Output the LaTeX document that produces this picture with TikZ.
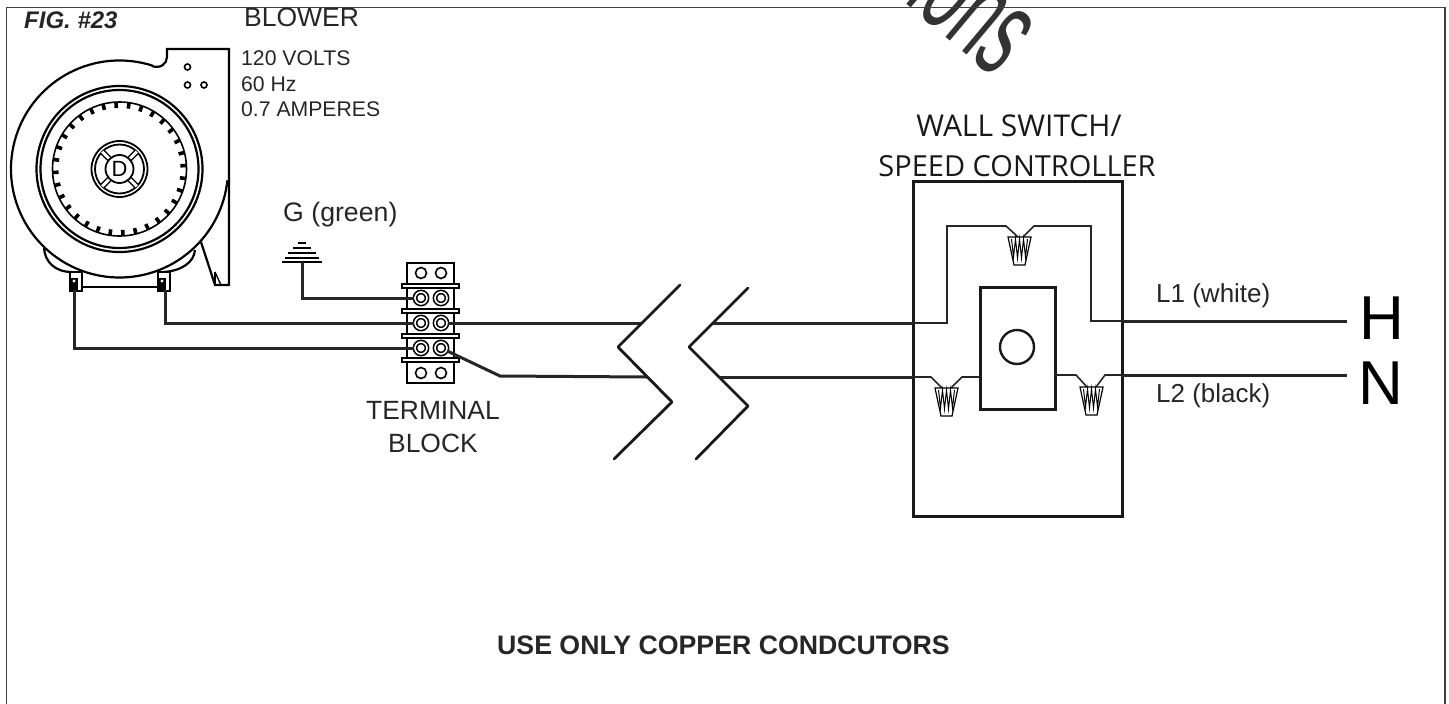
\documentclass[tikz,border=0pt]{standalone}
\usepackage{fontspec}
\setmainfont{Liberation Sans}
\newfontfamily\wallfont{Open Sans}
\usepackage{tikz}

\tikzset{
    lab/.style={inner sep=0pt, anchor=base west, text=black!85, font=\fontsize{#1}{#1}\selectfont},
    wallab/.style={inner sep=0pt, anchor=base, text=black!90, font=\wallfont\fontsize{#1}{#1}\selectfont},
    wire/.style={line width=3pt, black!85},
    thinwire/.style={line width=1.6pt, black!85},
    body/.style={line width=2.2pt},
    screw/.style={circle, draw, double, double distance=1.6pt, line width=1.6pt, inner sep=0pt, minimum size=12pt},
    hole/.style={circle, draw, line width=1.6pt, inner sep=0pt, minimum size=#1},
    wirenut/.pic={
        \draw[line width=1.2pt, fill=white] (-11.5,0) -- (11.5,0) -- (5.5,28) -- (-5.5,28) -- cycle;
        \draw[line width=1pt] (-8,2) -- (-6,20) -- (-4,2) -- (-2,21) -- (0,2) -- (2,21) -- (4,2) -- (6,20) -- (8,2);
    }
}

\begin{document}
\begin{tikzpicture}[x=1pt, y=-1pt]
    \useasboundingbox (0,0) rectangle (1449,704);

    % Watermark
    \node[inner sep=0pt, anchor=base, rotate=-40, xscale=0.5, text=black!80, font=\fontsize{130}{130}\selectfont] (mark) at (949,40) {ions};

    % The frame
    \draw[line width=1.6pt, black!75] (6.5,704) -- (6.5,7.5) -- (1445,7.5) -- (1445,704);

    \node[lab=24, font=\bfseries\itshape\fontsize{24}{24}\selectfont] (fig) at (24,28) {FIG. \#23};
    \node[lab=26.5] (blower) at (244,27) {BLOWER};
    \node[lab=21.2] (volts) at (241,65) {120 VOLTS};
    \node[lab=21.2] (hertz) at (241,91) {60 Hz};
    \node[lab=21.2] (amps) at (241,116) {0.7 AMPERES};

    % Blower housing
    \draw[body] (152,66) .. controls (160,69) and (167,64) .. (167,57) -- (167,49) -- (229,49) -- (229,285) -- (215,285) -- (201,242);
    \draw[body] (119.5,169) ++(72:108.5pt) arc[start angle=72, end angle=354, radius=108.5pt];
    \draw[line width=1.4pt] (215,272) -- (215,285);
    \draw[line width=1.4pt] (215,272) -- (221,285);

    % Housing holes
    \node[hole=6pt] (holea) at (187.5,67) {};
    \node[hole=6pt] (holeb) at (187.5,85) {};
    \node[hole=6pt] (holec) at (204,85) {};

    % Rings and fan
    \draw[body] (119.5,169) circle[radius=83pt];
    \draw[body] (119.5,169) circle[radius=79pt];
    \draw[line width=1.6pt] (119.5,169) circle[radius=67pt];
    \foreach \a in {0,11.25,...,349} {
        \draw[line width=3.6pt] (119.5,169) ++(\a+3:61pt) -- ++(\a+3:6pt);
    }

    % Hub
    \draw[line width=1.8pt] (119.5,169) circle[radius=28pt];
    \draw[line width=1.8pt] (119.5,169) circle[radius=24.5pt];
    \foreach \a in {45,135,225,315} {
        \draw[line width=6pt] (119.5,169) ++(\a:14pt) -- ++(\a:10.5pt);
        \draw[line width=3pt, white] (119.5,169) ++(\a:14pt) -- ++(\a:10.5pt);
    }
    \draw[line width=1.8pt, fill=white] (119.5,169) circle[radius=14pt];
    \node[inner sep=0pt, font=\fontsize{22}{22}\selectfont] (hub) at (119.5,169) {D};

    % Feet and clamps
    \draw[body] (44,248) .. controls (45,262) and (55,272) .. (72,272);
    \draw[body] (195,250) .. controls (194,262) and (182,271) .. (163,272);
    \draw[body] (82,287) -- (158,287);
    \foreach \cx in {70,158} {
        \draw[line width=1.4pt, fill=white] (\cx,272) rectangle (\cx+12,291);
        \fill (\cx,278) rectangle (\cx+8,291);
        \fill[white] (\cx+4,281) circle[radius=1.6pt];
    }
    \coordinate (clampl) at (74,290);
    \coordinate (clampr) at (165,290);

    % Ground
    \foreach \gy/\gw in {243/4, 248/9, 253/14, 258/17, 262/20} {
        \draw[line width=1.8pt] (302-\gw,\gy) -- (302+\gw,\gy);
    }
    \coordinate (gnd) at (302,262);
    \node[lab=26.7] (green) at (283,221) {G (green)};

    % Terminal block
    \draw[line width=1.8pt, fill=white] (407,263) rectangle (454,383);
    \foreach \by in {286,311,336,360} {
        \draw[line width=1.5pt, fill=white] (402,\by-2.2) rectangle (459,\by+2.2);
    }
    \node[hole=11pt] (tla) at (421,273) {};
    \node[hole=11pt] (tlb) at (441,273) {};
    \node[hole=11pt] (tlc) at (421,373) {};
    \node[hole=11pt] (tld) at (441,373) {};
    \node[screw] (gl) at (421,298) {};
    \node[screw] (gr) at (441,298) {};
    \node[screw] (ll) at (421,323) {};
    \node[screw] (lr) at (441,323) {};
    \node[screw] (nl) at (421,348) {};
    \node[screw] (nr) at (441,348) {};
    \node[lab=26.4] (termb) at (366,419) {TERMINAL};
    \node[lab=26.4] (blockb) at (388,452) {BLOCK};

    % Wires to the break
    \coordinate (breaklt) at (642,323);
    \coordinate (breaklb) at (647,377);
    \coordinate (breakrt) at (713,323);
    \coordinate (breakrb) at (719,377);
    \coordinate (bend) at (500,376);
    \draw[wire] (gnd) |- (gl);
    \draw[wire] (clampr) |- (ll);
    \draw[wire] (clampl) |- (nl);
    \draw[wire] (lr) -- (breaklt);
    \draw[wire] (nr) -- (bend) -- (breaklb);

    % Break marks
    \draw[line width=2.8pt, black!90, line cap=round, line join=round] (680,285) -- (618,347) -- (672,402) -- (614,459);
    \draw[line width=2.8pt, black!90, line cap=round, line join=round] (748,288) -- (689,347) -- (748,406) -- (696,459);

    % Switch box
    \draw[line width=3pt, black!90] (913,181) rectangle (1122,516);
    \draw[line width=3pt, black!90] (980,287) rectangle (1055,409);
    \node[circle, draw, line width=2.4pt, black!90, inner sep=0pt, minimum size=34pt] (knob) at (1017,347) {};
    \node[wallab=30] (wall) at (1019,136) {WALL SWITCH/};
    \node[wallab=29] (speed) at (1017,176) {SPEED CONTROLLER};

    % Wires in the box
    \coordinate (boxlt) at (913,323);
    \coordinate (boxlb) at (913,377);
    \coordinate (boxrt) at (1122,321);
    \coordinate (boxrb) at (1122,375);
    \coordinate (platel) at (980,377);
    \coordinate (plater) at (1055,375);
    \draw[wire] (breakrt) -- (boxlt);
    \draw[wire] (breakrb) -- (boxlb);
    \draw[thinwire] (boxlt) -- (947,323) -- (947,226) -- (1006,226) -- (1018,237);
    \draw[thinwire] (1023,237) -- (1034,226) -- (1091,226) -- (1091,321) -- (boxrt);
    \draw[thinwire] (boxlb) -- (931,377) -- (942,388);
    \draw[thinwire] (951,388) -- (962,377) -- (platel);
    \draw[thinwire] (plater) -- (1076,375) -- (1087,387);
    \draw[thinwire] (1096,387) -- (1105,375) -- (boxrb);
    \pic at (1019.5,237) {wirenut};
    \pic at (946.5,388) {wirenut};
    \pic at (1091.5,387) {wirenut};

    % Supply
    \coordinate (hot) at (1347,321);
    \coordinate (neutral) at (1347,375);
    \draw[wire] (boxrt) -- (hot);
    \draw[wire] (boxrb) -- (neutral);
    \node[lab=26] (lone) at (1156,302) {L1 (white)};
    \node[lab=26] (ltwo) at (1156,402) {L2 (black)};
    \node[lab=62, text=black] (hh) at (1359,339) {H};
    \node[lab=62, text=black] (nn) at (1358,404) {N};

    \node[lab=26.7, font=\bfseries\fontsize{26.7}{26.7}\selectfont] (use) at (497,654) {USE ONLY COPPER CONDCUTORS};
\end{tikzpicture}
\end{document}
